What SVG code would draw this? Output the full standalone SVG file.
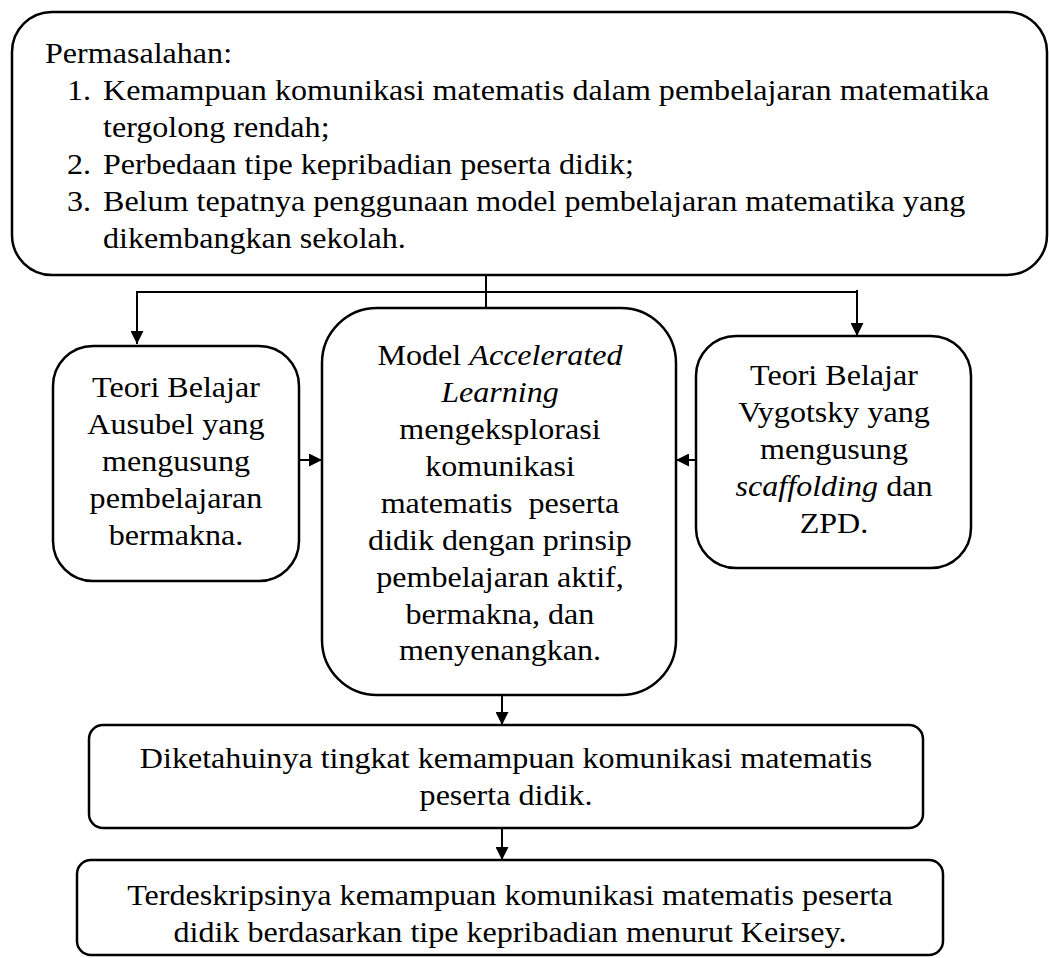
<svg xmlns="http://www.w3.org/2000/svg" width="1049" height="958" viewBox="0 0 1049 958">
<style>
.box{fill:#fff;stroke:#000;stroke-width:2.5}
.t{font-family:"Liberation Serif","Times New Roman",serif;font-size:30px;fill:#000}
.c{text-anchor:middle}
.i{font-style:italic}
.ln{fill:none;stroke:#000;stroke-width:2}
</style>
<defs>
<marker id="ah" viewBox="0 0 10 10" refX="10" refY="5" markerWidth="13" markerHeight="13" markerUnits="userSpaceOnUse" orient="auto">
<path d="M0,0 L10,5 L0,10 z" fill="#000"/>
</marker>
</defs>
<rect width="1049" height="958" fill="#fff"/>
<g id="connectors">
<line class="ln" x1="486" y1="275" x2="486" y2="308"/>
<polyline class="ln" points="137,342 137,292 857,292"/>
<line class="ln" x1="137" y1="292" x2="137" y2="344" marker-end="url(#ah)"/>
<line class="ln" x1="857" y1="290" x2="857" y2="336" marker-end="url(#ah)"/>
<line class="ln" x1="299" y1="460" x2="322" y2="460" marker-end="url(#ah)"/>
<line class="ln" x1="696" y1="460" x2="676" y2="460" marker-end="url(#ah)"/>
<line class="ln" x1="502" y1="695" x2="502" y2="725" marker-end="url(#ah)"/>
<line class="ln" x1="502" y1="828" x2="502" y2="860" marker-end="url(#ah)"/>
</g>
<g id="node-permasalahan">
<rect class="box" x="12" y="12" width="1035" height="263" rx="40" ry="40"/>
<g transform="scale(1.07 1)">
<text class="t" x="42.06" y="63">Permasalahan:</text>
<text class="t" x="62.62" y="100">1.</text>
<text class="t" x="96.26" y="100">Kemampuan komunikasi matematis dalam pembelajaran matematika</text>
<text class="t" x="96.26" y="137">tergolong rendah;</text>
<text class="t" x="62.62" y="174">2.</text>
<text class="t" x="96.26" y="174">Perbedaan tipe kepribadian peserta didik;</text>
<text class="t" x="62.62" y="211">3.</text>
<text class="t" x="96.26" y="211">Belum tepatnya penggunaan model pembelajaran matematika yang</text>
<text class="t" x="96.26" y="248">dikembangkan sekolah.</text>
</g>
</g>
<g id="node-ausubel">
<rect class="box" x="53" y="346" width="246" height="235" rx="40" ry="40"/>
<g transform="scale(1.07 1)">
<text class="t c" x="164.49" y="397">Teori Belajar</text>
<text class="t c" x="164.49" y="434">Ausubel yang</text>
<text class="t c" x="164.49" y="471">mengusung</text>
<text class="t c" x="164.49" y="508">pembelajaran</text>
<text class="t c" x="164.49" y="545">bermakna.</text>
</g>
</g>
<g id="node-model">
<rect class="box" x="322" y="308" width="354" height="387" rx="55" ry="55"/>
<g transform="scale(1.07 1)">
<text class="t c" x="467.29" y="365">Model <tspan class="i">Accelerated</tspan></text>
<text class="t c i" x="467.29" y="402">Learning</text>
<text class="t c" x="467.29" y="439">mengeksplorasi</text>
<text class="t c" x="467.29" y="476">komunikasi</text>
<text class="t c" x="467.29" y="513" style="white-space:pre">matematis  peserta</text>
<text class="t c" x="467.29" y="550">didik dengan prinsip</text>
<text class="t c" x="467.29" y="587">pembelajaran aktif,</text>
<text class="t c" x="467.29" y="624">bermakna, dan</text>
<text class="t c" x="467.29" y="660">menyenangkan.</text>
</g>
</g>
<g id="node-vygotsky">
<rect class="box" x="696" y="336" width="275" height="232" rx="40" ry="40"/>
<g transform="scale(1.07 1)">
<text class="t c" x="779.44" y="385">Teori Belajar</text>
<text class="t c" x="779.44" y="422">Vygotsky yang</text>
<text class="t c" x="779.44" y="459">mengusung</text>
<text class="t c" x="779.44" y="496"><tspan class="i">scaffolding</tspan> dan</text>
<text class="t c" x="779.44" y="533">ZPD.</text>
</g>
</g>
<g id="node-diketahuinya">
<rect class="box" x="89" y="725" width="834" height="103" rx="14" ry="14"/>
<g transform="scale(1.07 1)">
<text class="t c" x="472.90" y="768">Diketahuinya tingkat kemampuan komunikasi matematis</text>
<text class="t c" x="472.90" y="805">peserta didik.</text>
</g>
</g>
<g id="node-terdeskripsinya">
<rect class="box" x="77" y="860" width="866" height="95" rx="14" ry="14"/>
<g transform="scale(1.07 1)">
<text class="t c" x="476.64" y="905">Terdeskripsinya kemampuan komunikasi matematis peserta</text>
<text class="t c" x="476.64" y="942">didik berdasarkan tipe kepribadian menurut Keirsey.</text>
</g>
</g>
</svg>
